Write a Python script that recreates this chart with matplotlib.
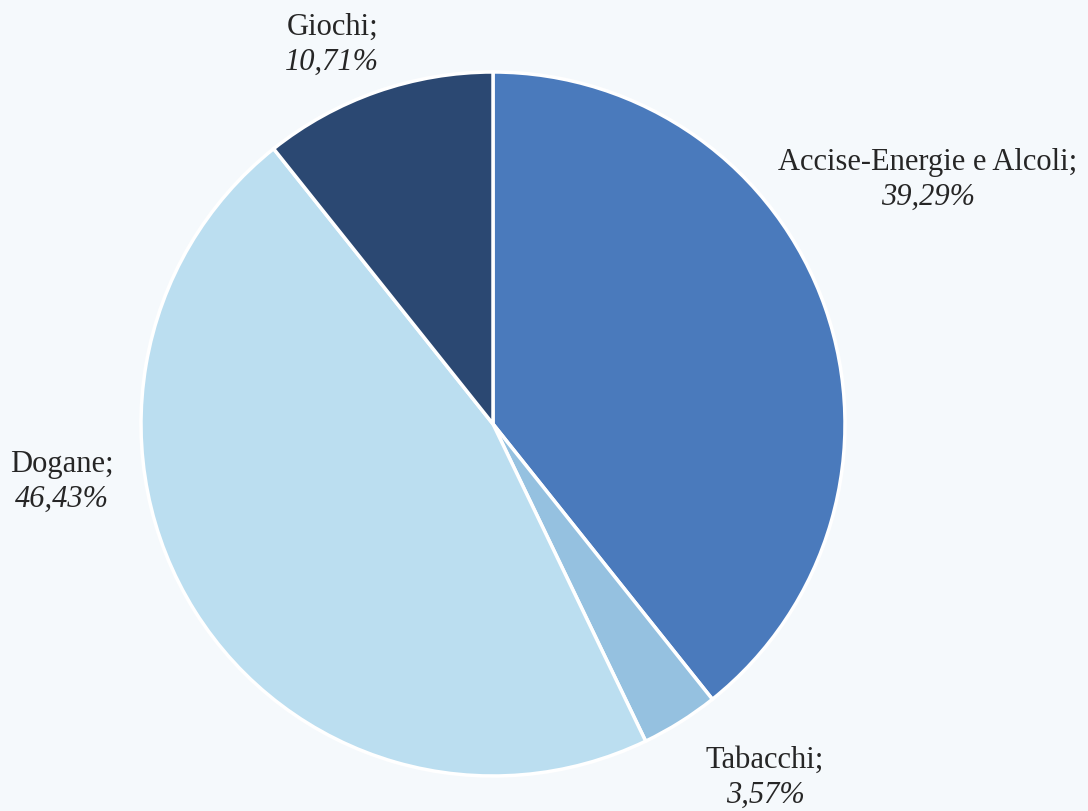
import matplotlib
matplotlib.use("Agg")
import matplotlib.pyplot as plt
import numpy as np

categories = ["Accise-Energie e Alcoli", "Tabacchi", "Dogane", "Giochi"]
values = [39.29, 3.57, 46.43, 10.71]
colors = ["#4A7ABC", "#95C1E0", "#BBDEF0", "#2B4872"]
# label block centres, in pie-radius units relative to the pie centre
label_x = [1.236, 0.773, -1.224, -0.457]
label_y = [0.693, -1.006, -0.165, 1.077]

bg = "#F5F9FC"
fig = plt.figure(figsize=(10.88, 8.11), dpi=100, facecolor=bg)
ax = fig.add_axes([0, 0, 1, 1])
ax.set_facecolor(bg)

wedges, _ = ax.pie(values, colors=colors, startangle=90, counterclock=False,
                   radius=1.0, center=(0, 0),
                   wedgeprops=dict(edgecolor="white", linewidth=2.5))

ax.set_xlim(-493 / 352, (1088 - 493) / 352)
ax.set_ylim(-(811 - 424) / 352, 424 / 352)
ax.set_aspect("auto")
ax.axis("off")

font = "Liberation Serif"
for name, v, x, y in zip(categories, values, label_x, label_y):
    ax.text(x, y + 0.05, name + ";", ha="center", va="center",
            fontsize=22, family=font, color="#262626")
    ax.text(x, y - 0.05, f"{v:.2f}".replace(".", ",") + "%", ha="center", va="center",
            fontsize=22, family=font, style="italic", color="#262626")

fig.savefig("out.png", dpi=100, facecolor=bg)
